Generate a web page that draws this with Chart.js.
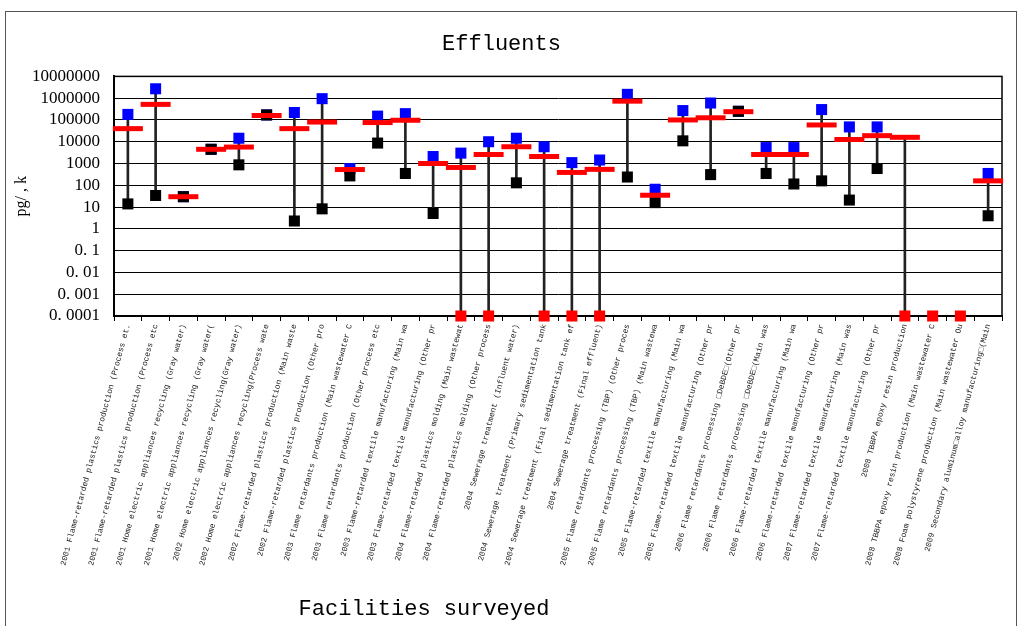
<!DOCTYPE html>
<html>
<head>
<meta charset="utf-8">
<script src="https://cdn.jsdelivr.net/npm/chart.js@4/dist/chart.umd.min.js"></script>
<style>
  html, body { margin: 0; padding: 0; background: #fff; overflow: hidden; }
  #wrap { position: absolute; left: 0; top: 0; width: 1022px; height: 626px; }
  #frame { position: absolute; left: 5px; top: 11px; width: 1010px; height: 700px; border: 1px solid #555; pointer-events: none; }
</style>
</head>
<body>
<div id="wrap"><canvas id="myChart"></canvas></div>
<div id="frame"></div>
<script>
const facilities = [
  '2001 Flame-retarded plastics production (Process et.',
  '2001 Flame-retarded plastics production (Process etc',
  '2001 Home electric appliances recycling (Gray water)',
  '2001 Home electric appliances recycling (Gray water(',
  '2002 Home electric appliances recycling(Gray water)',
  '2002 Home electric appliances recycling(Process wate',
  '2002 Flame-retarded plastics production (Main waste',
  '2002 Flame-retarded plastics production (Other pro',
  '2003 Flame retardants production (Main wastewater C',
  '2003 Flame retardants production (Other process etc',
  '2003 Flame-retarded textile manufacturing (Main wa',
  '2003 Flame-retarded textile manufacturing (Other pr',
  '2004 Flame-retarded plastics molding (Main wastewat',
  '2004 Flame-retarded plastics molding (Other process',
  '2004 Sewerage treatment (Influent water)',
  '2004 Sewerage treatment (Primary sedimentation tank',
  '2004 Sewerage treatment (Final sedimentation tank ef',
  '2004 Sewerage treatment (Final effluent)',
  '2005 Flame retardants processing (TBP) (Other proces',
  '2005 Flame retardants processing (TBP) (Main wastewa',
  '2005 Flame-retarded textile manufacturing (Main wa',
  '2005 Flame-retarded textile manufacturing (Other pr',
  '2006 Flame retardants processing \u25A1DeBDE\u25A1(Other pr',
  '2006 Flame retardants processing \u25A1DeBDE\u25A1(Main was',
  '2006 Flame-retarded textile manufacturing (Main wa',
  '2006 Flame-retarded textile manufacturing (Other pr',
  '2007 Flame-retarded textile manufacturing (Main was',
  '2007 Flame-retarded textile manufacturing (Other pr',
  '2008 TBBPA epoxy resin production',
  '2008 TBBPA epoxy resin production (Main wastewater C',
  '2008 Foam polystyrene production (Main wastewater Ou',
  '2009 Secondary aluminum\u25A1alloy manufacturing\u25A1(Main'
];

// pg/L ; null = not shown
const maxValues = [180000, 2700000, 30, 4500, 14500, 170000, 220000, 950000,
  580, 150000, 195000, 2100, 3000, 10000, 14500, 5900,
  1100, 1450, 1500000, 66, 270000, 600000, 250000, 5400,
  5400, 300000, 48000, 48000, null, null, null, 350];
const meanValues = [40000, 520000, 30, 4500, 5700, 160000, 40000, 80000,
  530, 76000, 97000, 1000, 660, 2600, 5900, 2100,
  390, 540, 730000, 35, 100000, 126000, 240000, 2600,
  2600, 59000, 12700, 19000, 16000, null, null, 160];
const minValues = [14, 34, 30, 4500, 870, 170000, 2.3, 8.3,
  270, 8700, 350, 5.1, null, null, 130, null,
  null, null, 240, 16, 11000, 310, 250000, 350,
  115, 160, 21, 590, null, null, null, 4];
// not detected, plotted at the axis floor
const ndValues = [null, null, null, null, null, null, null, null,
  null, null, null, null, 0.0001, 0.0001, null, 0.0001,
  0.0001, 0.0001, null, null, null, null, null, null,
  null, null, null, null, 0.0001, 0.0001, 0.0001, null];

const yTickValues = [0.0001, 0.001, 0.01, 0.1, 1, 10, 100, 1000, 10000, 100000, 1000000, 10000000];
const yTickLabels = ['0. 0001', '0. 001', '0. 01', '0. 1', '1', '10', '100', '1000', '10000', '100000', '1000000', '10000000'];

const rangeLines = facilities.map((_, i) => {
  const low = minValues[i] ?? ndValues[i];
  const high = maxValues[i] ?? meanValues[i];
  return (low != null && high != null) ? [low, high] : null;
});

const plotFrame = {
  id: 'plotFrame',
  beforeDatasetsDraw(chart) {
    const { ctx, chartArea: a } = chart;
    ctx.save();
    ctx.strokeStyle = '#000';
    ctx.lineWidth = 1.5;
    ctx.strokeRect(a.left, a.top, a.right - a.left, a.bottom - a.top);
    ctx.restore();
  },
  afterDraw(chart) {
    const ctx = chart.ctx;
    ctx.save();
    ctx.fillStyle = '#000';
    ctx.font = '22px "Liberation Mono"';
    ctx.textAlign = 'center';
    ctx.textBaseline = 'middle';
    ctx.fillText('Facilities surveyed', 424, 609);
    ctx.restore();
  }
};

const square = (data, color, order) => ({
  type: 'line',
  data,
  showLine: false,
  clip: false,
  pointStyle: 'rect',
  pointRadius: 7.8,
  pointHoverRadius: 7.8,
  pointBackgroundColor: color,
  pointBorderColor: color,
  pointBorderWidth: 0,
  order
});

new Chart('myChart', {
  type: 'bar',
  data: {
    labels: facilities,
    datasets: [
      { type: 'bar', data: rangeLines, backgroundColor: '#222', barThickness: 2, clip: false, order: 5 },
      square(maxValues, '#0000ff', 4),
      square(minValues, '#000000', 3),
      {
        type: 'line',
        data: meanValues,
        showLine: false,
        clip: false,
        pointStyle: 'line',
        pointRadius: 15,
        pointHoverRadius: 15,
        pointBorderColor: '#ff0000',
        pointBorderWidth: 5,
        order: 2
      },
      square(ndValues, '#ff0000', 1)
    ]
  },
  options: {
    responsive: true,
    maintainAspectRatio: false,
    animation: false,
    layout: { padding: { left: 0, right: 19, top: 0, bottom: 0 } },
    plugins: {
      legend: { display: false },
      tooltip: { enabled: false },
      title: {
        display: true,
        text: 'Effluents',
        color: '#000',
        font: { family: 'Liberation Mono', size: 22, weight: 'normal' },
        padding: { top: 31, bottom: 19 }
      }
    },
    scales: {
      x: {
        offset: true,
        grid: { display: true, drawOnChartArea: false, drawTicks: true, tickLength: 5, color: '#000', offset: true },
        border: { color: '#000', width: 2 },
        ticks: {
          autoSkip: false, maxRotation: 75, minRotation: 75, padding: 2,
          color: '#222', font: { family: 'Liberation Mono', size: 8 }
        },
        afterFit: (s) => { s.height = 310; }
      },
      y: {
        type: 'logarithmic',
        min: 0.0001,
        max: 10000000,
        afterBuildTicks: (s) => { s.ticks = yTickValues.map(v => ({ value: v })); },
        grid: { color: '#000', lineWidth: 1, drawTicks: false },
        border: { color: '#000', width: 2 },
        ticks: {
          autoSkip: false,
          padding: 14, color: '#000',
          font: { family: 'Liberation Serif', size: 17 },
          callback: (v, i) => yTickLabels[i]
        },
        title: {
          display: true, text: 'pg/ , k', color: '#000',
          font: { family: 'Liberation Serif', size: 16 },
          padding: { top: 12, bottom: 0 }
        },
        afterFit: (s) => { s.width = 114; }
      }
    }
  },
  plugins: [plotFrame]
});
</script>
</body>
</html>
